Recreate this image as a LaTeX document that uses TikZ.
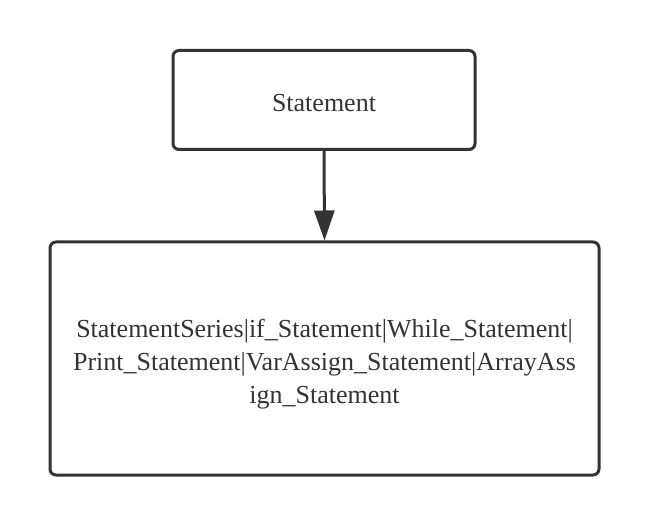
\documentclass[tikz,border=0pt]{standalone}
\usepackage{fontspec}
\setmainfont{Liberation Serif}
\usetikzlibrary{arrows.meta}
\definecolor{ink}{HTML}{333333}
\begin{document}
\begin{tikzpicture}[x=1pt,y=-1pt,
  box/.style={draw=ink,line width=3pt,rounded corners=6pt,inner sep=0pt},
  txt/.style={font=\fontsize{26}{33}\selectfont,text=ink,align=center,inner sep=0pt},
  link/.style={draw=ink,line width=3pt,-{Triangle[length=30pt,width=20pt]}}]
\useasboundingbox (0,0) rectangle (650,526);
\node[box,minimum width=302pt,minimum height=99pt] (s) at (324,100) {};
\node[txt] (st) at (324,103) {Statement};
\node[box,minimum width=549pt,minimum height=233pt] (b) at (324.5,358.5) {};
\node[txt] (bt) at (324.5,364)
  {StatementSeries|if\_Statement|While\_Statement|\\
   Print\_Statement|VarAssign\_Statement|ArrayAss\\
   ign\_Statement};
\draw[link] (s.south) -- (b.north);
\end{tikzpicture}
\end{document}
